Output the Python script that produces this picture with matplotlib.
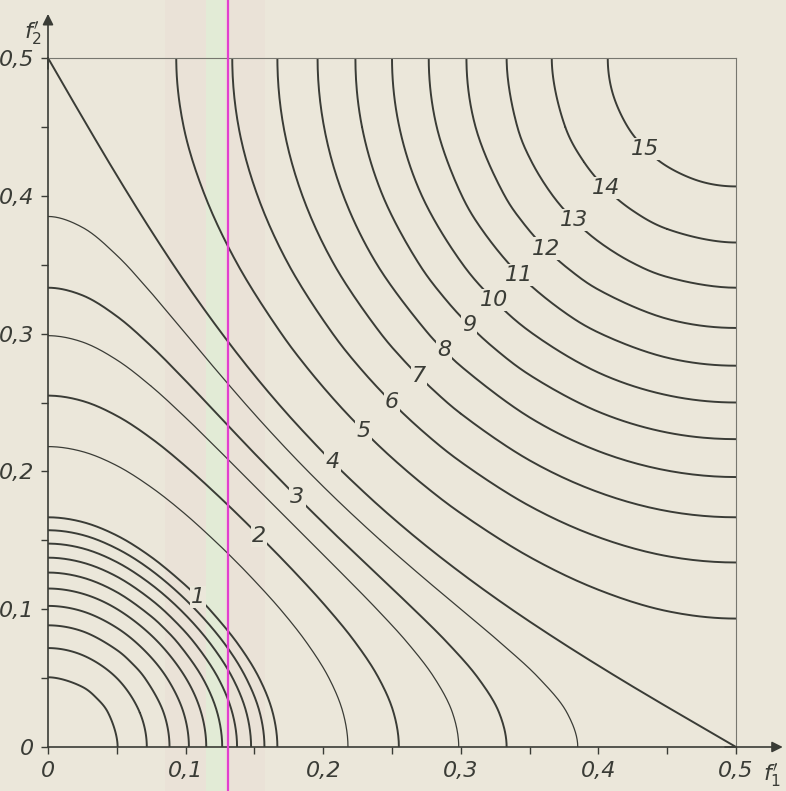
import numpy as np
import matplotlib
matplotlib.use("Agg")
import matplotlib.pyplot as plt

plt.rcParams['font.family'] = ['Liberation Sans Narrow', 'DejaVu Sans']

# Kurven werden je zur Haelfte abgelesen (f1 >= f2, vom Rand bis zur Diagonale)
# und an der Diagonale gespiegelt.

# innere Ringe 0,1 ... 0,9 (ohne Beschriftung)
inner_levels = [0.1, 0.2, 0.3, 0.4, 0.5, 0.6, 0.7, 0.8, 0.9]
inner_f1 = [
    [0.0506, 0.0436, 0.0354],
    [0.0718, 0.0667, 0.0500],
    [0.0883, 0.0840, 0.0704, 0.0609],
    [0.1024, 0.0985, 0.0865, 0.0701],
    [0.1150, 0.1113, 0.1002, 0.0781],
    [0.1266, 0.1230, 0.1124, 0.0948, 0.0853],
    [0.1374, 0.1339, 0.1237, 0.1069, 0.0918],
    [0.1476, 0.1442, 0.1342, 0.1180, 0.0979],
    [0.1573, 0.1539, 0.1440, 0.1283, 0.1035],
]
inner_f2 = [
    [0, 0.025, 0.0354],
    [0, 0.025, 0.0500],
    [0, 0.025, 0.05, 0.0609],
    [0, 0.025, 0.05, 0.0701],
    [0, 0.025, 0.05, 0.0781],
    [0, 0.025, 0.05, 0.075, 0.0853],
    [0, 0.025, 0.05, 0.075, 0.0918],
    [0, 0.025, 0.05, 0.075, 0.0979],
    [0, 0.025, 0.05, 0.075, 0.1035],
]

# Kurven 1 ... 4 (schneiden beide Achsen)
low_levels = [1, 2, 3, 4]
low_f1 = [
    [0.1667, 0.1633, 0.1535, 0.1379, 0.1173, 0.1088],
    [0.2550, 0.2510, 0.2398, 0.2229, 0.2020, 0.1787, 0.1534],
    [0.3333, 0.3278, 0.3126, 0.2909, 0.2658, 0.2394, 0.2131, 0.1875, 0.1812],
    [0.5000, 0.4569, 0.4148, 0.3746, 0.3368, 0.3019, 0.2698, 0.2405, 0.2137, 0.2068],
]
low_f2 = [
    [0, 0.025, 0.05, 0.075, 0.1, 0.1088],
    [0, 0.0255, 0.051, 0.0765, 0.102, 0.1275, 0.1534],
    [0, 0.025, 0.05, 0.075, 0.1, 0.125, 0.15, 0.175, 0.1812],
    [0, 0.025, 0.05, 0.075, 0.1, 0.125, 0.15, 0.175, 0.2, 0.2068],
]

# duenne Zwischenkurven (ohne Beschriftung)
thin_f1 = [
    [0.2180, 0.2144, 0.2042, 0.1885, 0.1688, 0.1460, 0.1356],
    [0.2985, 0.2939, 0.2809, 0.2618, 0.2390, 0.2145, 0.1895, 0.1697],
    [0.3850, 0.3771, 0.3568, 0.3296, 0.3000, 0.2703, 0.2416, 0.2145, 0.1945],
]
thin_f2 = [
    [0, 0.025, 0.05, 0.075, 0.1, 0.125, 0.1356],
    [0, 0.025, 0.05, 0.075, 0.1, 0.125, 0.15, 0.1697],
    [0, 0.025, 0.05, 0.075, 0.1, 0.125, 0.15, 0.175, 0.1945],
]

# Kurven 5 ... 15 (vom rechten Rand f1 = 0,5 bis zur Diagonale)
high_levels = [5, 6, 7, 8, 9, 10, 11, 12, 13, 14, 15]
high_f1 = [
    [0.5, 0.45, 0.4, 0.35, 0.3, 0.275, 0.25, 0.2294],
    [0.5, 0.45, 0.4, 0.35, 0.3, 0.275, 0.25],
    [0.5, 0.45, 0.4, 0.35, 0.3, 0.28, 0.2694],
    [0.5, 0.45, 0.4, 0.35, 0.3, 0.2879],
    [0.5, 0.45, 0.4, 0.35, 0.325, 0.3061],
    [0.5, 0.45, 0.4, 0.35, 0.3242],
    [0.5, 0.45, 0.4, 0.375, 0.3426],
    [0.5, 0.45, 0.4, 0.38, 0.3617],
    [0.5, 0.45, 0.425, 0.4, 0.3823],
    [0.5, 0.45, 0.425, 0.4054],
    [0.5, 0.475, 0.45, 0.4341],
]
high_f2 = [
    [0.0932, 0.0986, 0.1141, 0.1379, 0.1696, 0.1885, 0.2098, 0.2294],
    [0.1339, 0.1385, 0.1523, 0.1749, 0.2069, 0.2268, 0.25],
    [0.1667, 0.1712, 0.1849, 0.2080, 0.2419, 0.2591, 0.2694],
    [0.1959, 0.2006, 0.2147, 0.2392, 0.2764, 0.2879],
    [0.2234, 0.2282, 0.2433, 0.2700, 0.2888, 0.3061],
    [0.25, 0.2553, 0.2717, 0.3016, 0.3242],
    [0.2767, 0.2825, 0.3008, 0.3157, 0.3426],
    [0.3041, 0.3107, 0.3319, 0.3456, 0.3617],
    [0.3333, 0.3411, 0.3513, 0.3669, 0.3823],
    [0.3661, 0.3759, 0.3892, 0.4054],
    [0.4068, 0.4102, 0.4213, 0.4341],
]

ticks = [0, 0.05, 0.1, 0.15, 0.2, 0.25, 0.3, 0.35, 0.4, 0.45, 0.5]
tick_labels = ["0", "", "0,1", "", "0,2", "", "0,3", "", "0,4", "", "0,5"]

bg = "#ebe7da"
ink = "#3a3c36"


def catmull_rom(P, n=20):
    # zentripetale Catmull-Rom-Kurve durch die Punkte P[1] ... P[-2]
    out = []
    for i in range(1, len(P) - 2):
        P0, P1, P2, P3 = P[i - 1], P[i], P[i + 1], P[i + 2]
        t0 = 0.0
        t1 = t0 + np.linalg.norm(P1 - P0) ** 0.5
        t2 = t1 + np.linalg.norm(P2 - P1) ** 0.5
        t3 = t2 + np.linalg.norm(P3 - P2) ** 0.5
        t = np.linspace(t1, t2, n)[:, None]
        A1 = (t1 - t) / (t1 - t0) * P0 + (t - t0) / (t1 - t0) * P1
        A2 = (t2 - t) / (t2 - t1) * P1 + (t - t1) / (t2 - t1) * P2
        A3 = (t3 - t) / (t3 - t2) * P2 + (t - t2) / (t3 - t2) * P3
        B1 = (t2 - t) / (t2 - t0) * A1 + (t - t0) / (t2 - t0) * A2
        B2 = (t3 - t) / (t3 - t1) * A2 + (t - t1) / (t3 - t1) * A3
        out.append((t2 - t) / (t2 - t1) * B1 + (t - t1) / (t2 - t1) * B2)
    return np.vstack(out)


def curve(f1, f2):
    x = np.array(f1, dtype=float)
    y = np.array(f2, dtype=float)
    # an der Diagonale spiegeln
    xs = np.concatenate([x, y[::-1][1:]])
    ys = np.concatenate([y, x[::-1][1:]])
    # Hilfspunkt am Rand (Kurven stehen senkrecht auf Achse bzw. Rand)
    if y[0] == 0 and x[0] == 0.5:
        ph = (1 - x[1], -y[1])
    elif y[0] == 0:
        ph = (x[1], -y[1])
    else:
        ph = (1 - x[1], y[1])
    P = np.column_stack([np.r_[ph[0], xs, ph[1]], np.r_[ph[1], ys, ph[0]]])
    C = catmull_rom(P)
    return C[:, 0], C[:, 1]


fig = plt.figure(figsize=(7.86, 7.91), dpi=100)
fig.patch.set_facecolor(bg)
ax = fig.add_axes([48 / 786, 44 / 791, 688 / 786, 689 / 791])
ax.set_facecolor(bg)

# Scan-Streifen
ax.axvspan(0.085, 0.158, ymin=-0.07, ymax=1.09, color="#eadfd6", alpha=0.6, lw=0, clip_on=False, zorder=0)
ax.axvspan(0.1148, 0.1286, ymin=-0.07, ymax=1.09, color="#e2ebd6", lw=0, clip_on=False, zorder=0)

for f1, f2 in zip(inner_f1, inner_f2):
    xs, ys = curve(f1, f2)
    ax.plot(xs, ys, color=ink, lw=1.4, zorder=2)

for f1, f2 in zip(thin_f1, thin_f2):
    xs, ys = curve(f1, f2)
    ax.plot(xs, ys, color=ink, lw=0.9, zorder=2)

for f1, f2 in zip(low_f1 + high_f1, low_f2 + high_f2):
    xs, ys = curve(f1, f2)
    ax.plot(xs, ys, color=ink, lw=1.4, zorder=2)

# Beschriftung auf der Diagonale
for lev, f1, f2 in zip(low_levels + high_levels, low_f1 + high_f1, low_f2 + high_f2):
    ax.text(f1[-1], f2[-1], str(lev), fontsize=16, fontstyle="italic", color=ink,
            ha="center", va="center", zorder=3,
            bbox=dict(boxstyle="square,pad=0.05", fc=bg, ec="none"))

ax.axvline(0.1308, ymin=-0.07, ymax=1.09, color="#e23fd0", lw=1.6, clip_on=False, zorder=5)

ax.set_xlim(0, 0.5)
ax.set_ylim(0, 0.5)
ax.set_xticks(ticks)
ax.set_yticks(ticks)
ax.set_xticklabels(tick_labels)
ax.set_yticklabels(tick_labels)
ax.tick_params(direction="out", length=5, width=1, color=ink, labelcolor=ink, labelsize=16, pad=5)
for lbl in ax.get_xticklabels() + ax.get_yticklabels():
    lbl.set_fontstyle("italic")

for side in ["left", "bottom"]:
    ax.spines[side].set_color(ink)
    ax.spines[side].set_linewidth(1.2)
for side in ["top", "right"]:
    ax.spines[side].set_color("#77776f")
    ax.spines[side].set_linewidth(0.8)

# Achsenpfeile
arrow = dict(arrowstyle="-|>", color=ink, lw=1.2, mutation_scale=16)
ax.annotate("", xy=(0, 0.534), xytext=(0, 0.49), arrowprops=arrow, annotation_clip=False)
ax.annotate("", xy=(0.536, 0), xytext=(0.49, 0), arrowprops=arrow, annotation_clip=False)

fig.text(33 / 786, 1 - 33 / 791, r"$f_2'$", fontsize=16, color=ink, ha="center", va="center")
fig.text(772 / 786, 16 / 791, r"$f_1'$", fontsize=16, color=ink, ha="center", va="center")

fig.savefig("out.png", dpi=100, facecolor=bg)
